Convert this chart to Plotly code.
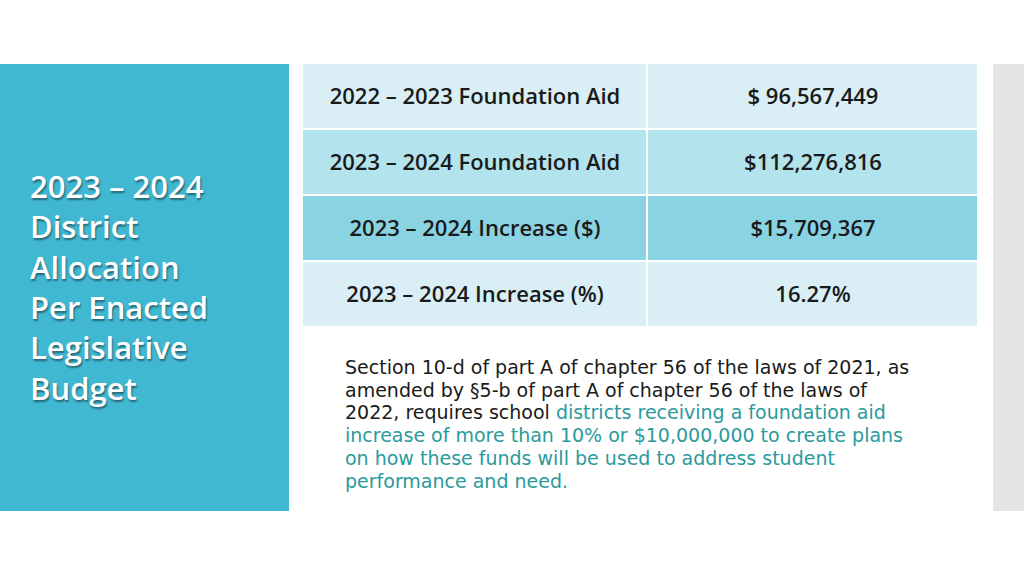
import plotly.graph_objects as go

# ---- data ----
row_labels = ["2022 – 2023 Foundation Aid", "2023 – 2024 Foundation Aid",
              "2023 – 2024 Increase ($)", "2023 – 2024 Increase (%)"]
row_values = ["$ 96,567,449", "$112,276,816", "$15,709,367", "16.27%"]
row_shade = [0, 1, 2, 0]  # shade index per row
shade_colors = ["#D9EFF5", "#B3E3EC", "#8AD3E3"]
col_edges = [0, 345, 676]

title_lines = ["2023 – 2024", "District", "Allocation", "Per Enacted", "Legislative", "Budget"]
note_lines = [
    ("Section 10-d of part A of chapter 56 of the laws of 2021, as", ""),
    ("amended by §5-b of part A of chapter 56 of the laws of", ""),
    ("2022, requires school ", "districts receiving a foundation aid"),
    ("", "increase of more than 10% or $10,000,000 to create plans"),
    ("", "on how these funds will be used to address student"),
    ("", "performance and need."),
]

W, H = 1024, 576

z = [[s, s] for s in row_shade]
text = [[l, v] for l, v in zip(row_labels, row_values)]
n = len(shade_colors) - 1
colorscale = [[i / n, c] for i, c in enumerate(shade_colors)]

fig = go.Figure(go.Heatmap(
    x=col_edges, y=list(range(len(row_labels))), z=z,
    text=text, texttemplate="%{text}",
    textfont=dict(family="Open Sans", size=22, color="#1A1A1A", weight=600),
    colorscale=colorscale, zmin=0, zmax=n, showscale=False,
    xgap=2, ygap=2, hoverinfo="skip",
))

fig.update_xaxes(visible=False, domain=[302 / W, 978 / W], range=[col_edges[0], col_edges[-1]])
fig.update_yaxes(visible=False, domain=[1 - 327 / H, 1 - 63 / H],
                 range=[len(row_labels) - 0.5, -0.5])

fig.add_shape(type="rect", xref="paper", yref="paper", x0=0, x1=289 / W,
              y0=1 - 511 / H, y1=1 - 64 / H, fillcolor="#41B8D2", line_width=0, layer="below")
fig.add_shape(type="rect", xref="paper", yref="paper", x0=993 / W, x1=1,
              y0=1 - 511 / H, y1=1 - 64 / H, fillcolor="#E4E4E4", line_width=0, layer="below")

fig.add_annotation(
    xref="paper", yref="paper", x=28 / W, y=1 - 163 / H, xanchor="left", yanchor="top",
    text="<br>".join(title_lines), showarrow=False, align="left",
    font=dict(family="Open Sans", size=31, color="white", weight=600,
              shadow="1px 2px 2px rgba(0,0,0,0.45)"),
)

for i, (blk, teal) in enumerate(note_lines):
    t = blk
    if teal:
        t += "<span style='color:#2A9A9C'>" + teal + "</span>"
    fig.add_annotation(
        xref="paper", yref="paper", x=343 / W, y=1 - (367 + i * 22.7) / H,
        xanchor="left", yanchor="middle", text=t, showarrow=False, align="left",
        font=dict(family="DejaVu Sans", size=19, color="#1A1A1A"),
    )

fig.update_layout(width=W, height=H, margin=dict(l=0, r=0, t=0, b=0),
                  paper_bgcolor="white", plot_bgcolor="white")
fig.write_html("out.html", config={"displayModeBar": False},
               post_script="document.body.style.margin='0';")
